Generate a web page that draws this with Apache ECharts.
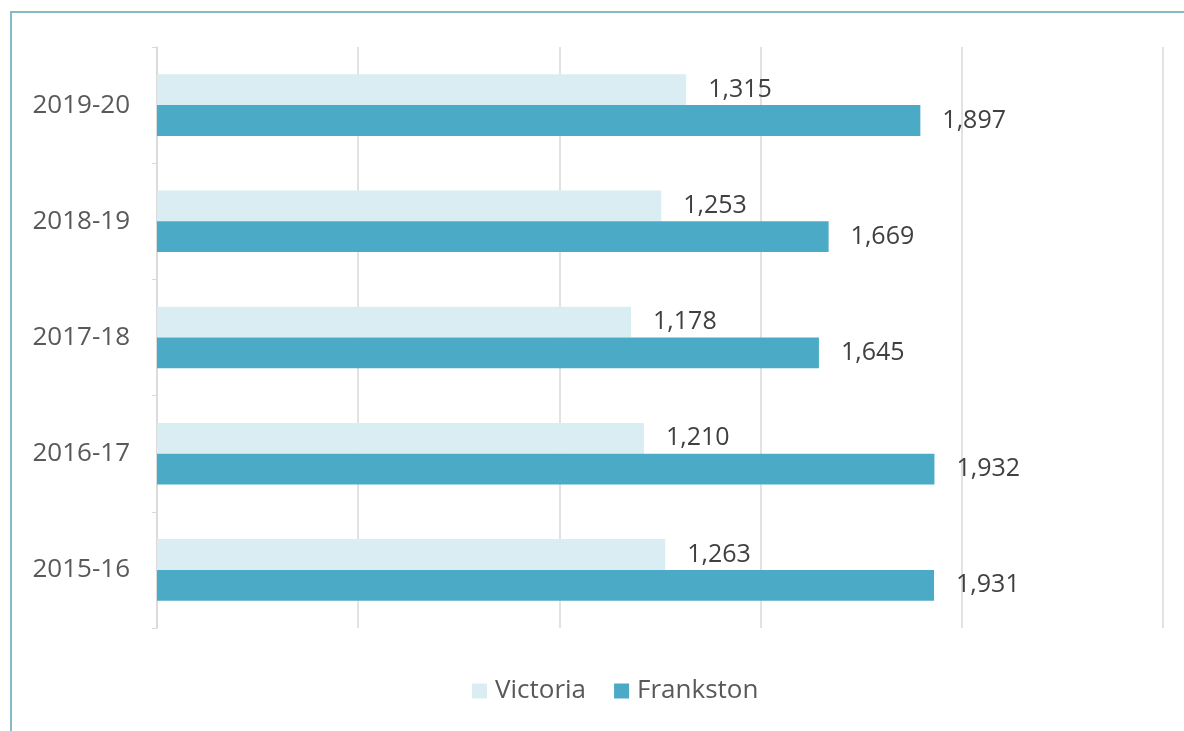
<!DOCTYPE html>
<html>
<head>
<meta charset="utf-8">
<script src="https://cdn.jsdelivr.net/npm/echarts@6/dist/echarts.min.js"></script>
<style>html,body{margin:0;padding:0;background:#fff}#c{width:1184px;height:731px}</style>
</head>
<body>
<div id="c"></div>
<script>
const categories = ['2015-16', '2016-17', '2017-18', '2018-19', '2019-20'];
const victoria = [1263, 1210, 1178, 1253, 1315];
const frankston = [1931, 1932, 1645, 1669, 1897];
const seriesNames = ['Victoria', 'Frankston'];

const chart = echarts.init(document.getElementById('c'));
const font = '"Open Sans", sans-serif';
const labelCfg = {
  show: true, position: 'right', distance: 22,
  color: '#404040', fontSize: 25, fontFamily: font,
  formatter: p => p.value.toLocaleString('en-US')
};
chart.setOption({
  backgroundColor: '#fff',
  animation: false,
  graphic: [{
    type: 'rect', shape: { x: 11, y: 12, width: 1300, height: 900 },
    style: { fill: 'none', stroke: '#86bac8', lineWidth: 2 }, silent: true
  }],
  legend: {
    bottom: 22, left: 467, itemWidth: 15, itemHeight: 15, itemGap: 28,
    icon: 'rect',
    textStyle: { color: '#595959', fontSize: 26, fontFamily: font, padding: [0, 0, 0, 3] },
    data: seriesNames
  },
  grid: { left: 157, right: 21, top: 47, bottom: 103, containLabel: false },
  xAxis: {
    type: 'value', min: 0, max: 2500, interval: 500,
    axisLine: { show: false }, axisTick: { show: false }, axisLabel: { show: false },
    splitLine: { show: true, lineStyle: { color: '#d9d9d9', width: 1.5 } }
  },
  yAxis: {
    type: 'category', data: categories,
    axisLine: { show: true, lineStyle: { color: '#d9d9d9', width: 1.5 } },
    axisTick: { show: true, length: 5, lineStyle: { color: '#d9d9d9' } },
    axisLabel: { color: '#595959', fontSize: 26, fontFamily: font, margin: 27 }
  },
  series: [
    { name: 'Victoria', type: 'bar', data: victoria, barGap: '0%', barCategoryGap: '47%',
      itemStyle: { color: '#daedf3' }, label: labelCfg },
    { name: 'Frankston', type: 'bar', data: frankston, barGap: '0%', barCategoryGap: '47%',
      itemStyle: { color: '#4babc6' }, label: labelCfg }
  ]
});
</script>
</body>
</html>
